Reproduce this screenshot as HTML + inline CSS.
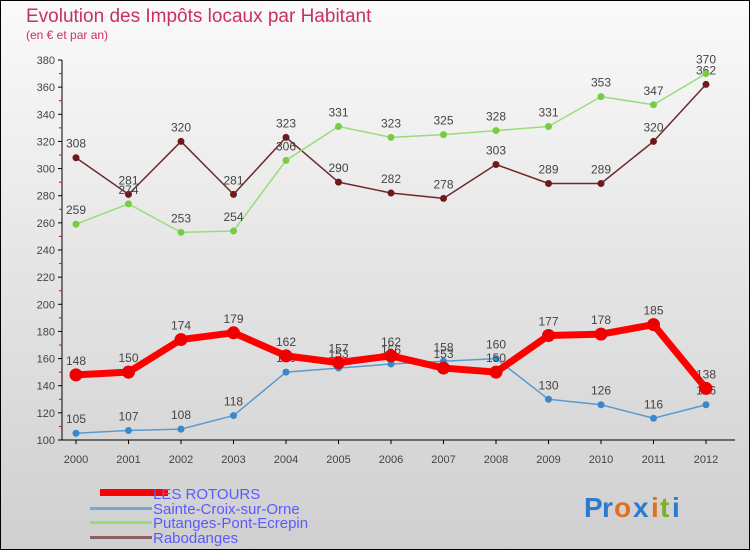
<!DOCTYPE html>
<html><head><meta charset="utf-8"><style>
body{margin:0;}
#c{width:750px;height:550px;position:relative;overflow:hidden;}
svg text{font-family:"Liberation Sans",sans-serif;}
</style></head><body>
<div id="c">
<svg id="s" width="750" height="550" xmlns="http://www.w3.org/2000/svg">
<defs><linearGradient id="bg" x1="0" y1="0" x2="0" y2="1"><stop offset="0" stop-color="#fafafa"/><stop offset="1" stop-color="#cfcfcf"/></linearGradient></defs>
<rect x="0.5" y="0.5" width="749" height="549" fill="url(#bg)" stroke="#000"/>
<text x="26" y="22" font-size="19" fill="#c8325a">Evolution des Impôts locaux par Habitant</text>
<text x="26" y="39" font-size="12" fill="#c8325a">(en € et par an)</text>
<g id="axes"></g><g id="series"></g>
<g>
<rect x="100" y="489" width="68" height="7" fill="#f00"/>
<text x="153" y="499" font-size="15" fill="#5a5aff">LES ROTOURS</text>
<rect x="90" y="507" width="62" height="3" fill="#7aa8c8"/>
<text x="153" y="514" font-size="15" fill="#5a5aff">Sainte-Croix-sur-Orne</text>
<rect x="90" y="521" width="62" height="3" fill="#99dd77"/>
<text x="153" y="528" font-size="15" fill="#5a5aff">Putanges-Pont-Ecrepin</text>
<rect x="90" y="536" width="62" height="3" fill="#8a6060"/>
<text x="153" y="543" font-size="15" fill="#5a5aff">Rabodanges</text>
</g>
<g font-size="28" font-weight="bold">
<text x="584" y="517" fill="#2a7ad0">P</text><text x="602" y="517" fill="#2a7ad0">r</text><text x="614" y="517" fill="#e07020">o</text><text x="633" y="517" fill="#2a7ad0">x</text><text x="651" y="517" fill="#e07020">i</text><text x="660" y="517" fill="#80b020">t</text><text x="672" y="517" fill="#2a7ad0">i</text>
</g>
</svg></div>
<script>
const years=[2000,2001,2002,2003,2004,2005,2006,2007,2008,2009,2010,2011,2012];
const yTicks=[100,120,140,160,180,200,220,240,260,280,300,320,340,360,380];
const rotours=[148,150,174,179,162,157,162,153,150,177,178,185,138];
const sainteCroix=[105,107,108,118,150,153,156,158,160,130,126,116,126];
const putanges=[259,274,253,254,306,331,323,325,328,331,353,347,370];
const rabodanges=[308,281,320,281,323,290,282,278,303,289,289,320,362];
const NS="http://www.w3.org/2000/svg";
const X=i=>76+i*52.5;
const Y=v=>440-(v-100)*380/280;
function mk(tag,attrs,parent){const e=document.createElementNS(NS,tag);for(const k in attrs)e.setAttribute(k,attrs[k]);parent.appendChild(e);return e;}
const ax=document.getElementById('axes');
const yl=mk('line',{x1:62,y1:60,x2:62,y2:440,stroke:'#000'},ax);


const xl=mk('line',{x1:62,y1:440,x2:735,y2:440,stroke:'#000'},ax);


yTicks.forEach(v=>{
 mk('line',{x1:58,y1:Y(v),x2:62,y2:Y(v),stroke:'#000'},ax);
 const t=mk('text',{x:55,y:Y(v)+4,'font-size':11,'text-anchor':'end',fill:'#444'},ax);
 t.textContent=v;
 
 
 if(v<380) mk('line',{x1:59,y1:Y(v+10),x2:62,y2:Y(v+10),stroke:'#e00'},ax);
});
years.forEach((yr,i)=>{
 mk('line',{x1:X(i),y1:440,x2:X(i),y2:444,stroke:'#000'},ax);
 const t=mk('text',{x:X(i),y:463,'font-size':11,'text-anchor':'middle',fill:'#444'},ax);
 t.textContent=yr;
 
 
});
const sg=document.getElementById('series');
function series(data,name,color,w,r,dot){
 const g=mk('g',{},sg);
 
 
 mk('polyline',{points:data.map((v,i)=>X(i)+','+Y(v)).join(' '),fill:'none',stroke:color,'stroke-width':w,'stroke-linejoin':'round'},g);
 data.forEach((v,i)=>{
  const c=mk('circle',{cx:X(i),cy:Y(v),r:r,fill:dot},g);
  
  
  const t=mk('text',{x:X(i),y:Y(v)-10,'font-size':12,'text-anchor':'middle',fill:'#444'},g);
  t.textContent=v;
  
  
 });
}
series(rabodanges,'rabodanges-series','#6e2a2a',1.5,3.5,'#6e1a1a');
series(putanges,'putanges-series','#99dd77',1.5,3.5,'#77cc44');
series(sainteCroix,'sainte-croix-series','#5a9ad0',1.5,3.5,'#3a88cc');
series(rotours,'les-rotours-series','#f00',7,6.5,'#e00');
</script>
</body></html>
